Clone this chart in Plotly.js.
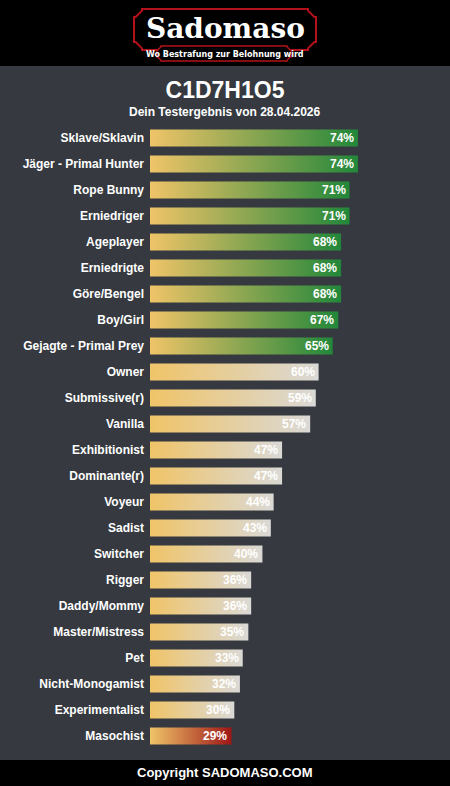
<!DOCTYPE html>
<html>
<head>
<meta charset="utf-8">
<script src="https://cdn.plot.ly/plotly-3.0.1.min.js"></script>
<style>html,body{margin:0;padding:0;background:#363a40;}#chart{width:450px;height:786px;}</style>
</head>
<body>
<div id="chart"></div>
<script>
// ---- data ----
const categories = ["Sklave/Sklavin","Jäger - Primal Hunter","Rope Bunny","Erniedriger","Ageplayer","Erniedrigte","Göre/Bengel","Boy/Girl","Gejagte - Primal Prey","Owner","Submissive(r)","Vanilla","Exhibitionist","Dominante(r)","Voyeur","Sadist","Switcher","Rigger","Daddy/Mommy","Master/Mistress","Pet","Nicht-Monogamist","Experimentalist","Masochist"];
const values = [74,74,71,71,68,68,68,67,65,60,59,57,47,47,44,43,40,36,36,35,33,32,30,29];
const groups = ["top","top","top","top","top","top","top","top","top","mid","mid","mid","mid","mid","mid","mid","mid","mid","mid","mid","mid","mid","mid","low"];
const titleText = "C1D7H1O5";
const subtitleText = "Dein Testergebnis von 28.04.2026";
const footerText = "Copyright SADOMASO.COM";
const logoText = "Sadomaso";
const logoSlogan = "Wo Bestrafung zur Belohnung wird";

// ---- styles ----
const W = 450, H = 786;
const startColor = "#f0c468";
const endColors = {top: "#22873a", mid: "#dad9d6", low: "#9e1616"};
const halfBar = 0.33;
const FONT = "Liberation Sans, Arial, sans-serif";

const px = x => x / W;
const py = y => 1 - y / H;

const traces = categories.map((c, i) => {
  const v = values[i];
  return {
    type: "scatter", mode: "none", fill: "toself",
    x: [0, v, v, 0, 0],
    y: [i - halfBar, i - halfBar, i + halfBar, i + halfBar, i - halfBar],
    fillgradient: {type: "horizontal", start: 0, stop: v,
      colorscale: [[0, startColor], [1, endColors[groups[i]]]]},
    fillcolor: endColors[groups[i]],
    hoverinfo: "skip", showlegend: false
  };
});

const annotations = values.map((v, i) => ({
  x: v, y: i, xref: "x", yref: "y", text: v + "%", showarrow: false,
  xanchor: "right", yanchor: "middle", xshift: -2,
  font: {family: FONT, size: 12, color: "#ffffff", weight: "bold"}
}));

annotations.push(
  {x: 0.5, y: py(112), xref: "paper", yref: "paper", text: subtitleText, showarrow: false,
   xanchor: "center", yanchor: "middle", font: {family: FONT, size: 12, color: "#ffffff", weight: "bold"}},
  {x: 0.5, y: py(772), xref: "paper", yref: "paper", text: footerText, showarrow: false,
   xanchor: "center", yanchor: "middle", font: {family: FONT, size: 13, color: "#ffffff", weight: "bold"}},
  {x: 0.5, y: py(29), xref: "paper", yref: "paper", text: logoText, showarrow: false,
   xanchor: "center", yanchor: "middle", font: {family: "DejaVu Serif, serif", size: 28, color: "#ffffff", weight: "bold"}},
  {x: 0.5, y: py(54), xref: "paper", yref: "paper", text: logoSlogan, showarrow: false,
   xanchor: "center", yanchor: "middle", font: {family: "DejaVu Sans, sans-serif", size: 8, color: "#ffffff", weight: "bold"}}
);

function rectPath(x0, y0, x1, y1) {
  return `M${px(x0)},${py(y0)} L${px(x1)},${py(y0)} L${px(x1)},${py(y1)} L${px(x0)},${py(y1)} Z`;
}
function notchedPath(x0, y0, x1, y1, n) {
  const pts = [[x0+n,y0],[x1-n,y0],[x1-n,y0+n*0.2],[x1-n*0.2,y0+n],[x1,y0+n],
               [x1,y1-n],[x1-n*0.2,y1-n],[x1-n,y1-n*0.2],[x1-n,y1],
               [x0+n,y1],[x0+n,y1-n*0.2],[x0+n*0.2,y1-n],[x0,y1-n],
               [x0,y0+n],[x0+n*0.2,y0+n],[x0+n,y0+n*0.2]];
  return "M" + pts.map(p => px(p[0]) + "," + py(p[1])).join(" L") + " Z";
}

const shapes = [
  {type: "path", xref: "paper", yref: "paper", path: rectPath(0, 0, 450, 66), fillcolor: "#000000", line: {width: 0}, layer: "below"},
  {type: "path", xref: "paper", yref: "paper", path: rectPath(0, 760, 450, 786), fillcolor: "#000000", line: {width: 0}, layer: "below"},
  {type: "path", xref: "paper", yref: "paper", path: notchedPath(134, 9, 316, 50, 8), fillcolor: "#000000", line: {color: "#b3121b", width: 2}, layer: "below"},
  {type: "path", xref: "paper", yref: "paper", path: notchedPath(157, 46, 291, 61, 4), fillcolor: "#000000", line: {color: "#b3121b", width: 1.5}, layer: "below"}
];

const layout = {
  width: W, height: H,
  margin: {l: 0, r: 0, t: 0, b: 0},
  paper_bgcolor: "#363a40", plot_bgcolor: "rgba(0,0,0,0)",
  title: {text: titleText, x: 0.5, xanchor: "center", xref: "paper", y: py(90), yanchor: "middle", yref: "paper",
          font: {family: FONT, size: 23, color: "#ffffff", weight: "bold"}},
  xaxis: {domain: [px(150), px(431)], range: [0, 100], visible: false, fixedrange: true},
  yaxis: {domain: [37 / H, 661 / H], range: [23.5, -0.5], tickmode: "array",
          tickvals: categories.map((c, i) => i), ticktext: categories,
          showgrid: false, zeroline: false, showline: false, ticks: "", ticklabelstandoff: 5,
          tickfont: {family: FONT, size: 12, color: "#ffffff", weight: "bold"}, fixedrange: true},
  shapes: shapes,
  annotations: annotations,
  showlegend: false
};

Plotly.newPlot("chart", traces, layout, {displayModeBar: false, staticPlot: true});
</script>
</body>
</html>
